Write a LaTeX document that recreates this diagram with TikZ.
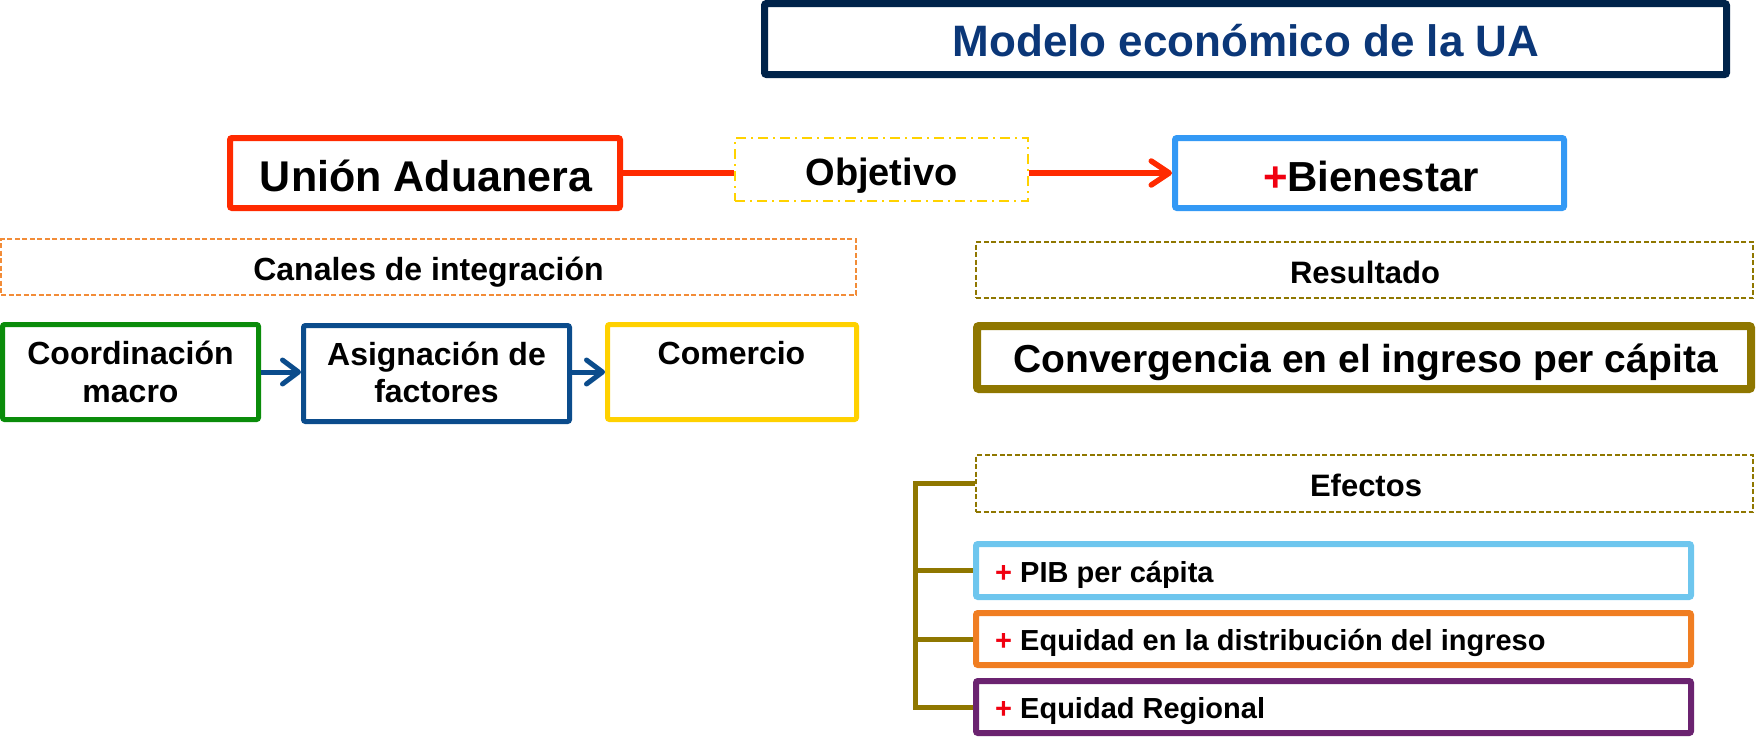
\documentclass[tikz,border=0pt]{standalone}
\usepackage{fontspec}
\setmainfont{Liberation Sans}
\usetikzlibrary{arrows.meta}
\definecolor{navy}{HTML}{00234A}
\definecolor{titleblue}{HTML}{0B3778}
\definecolor{uared}{HTML}{FF2A00}
\definecolor{objyellow}{HTML}{FFD200}
\definecolor{bienblue}{HTML}{3399F5}
\definecolor{canorange}{HTML}{F28C38}
\definecolor{cgreen}{HTML}{0A8C0A}
\definecolor{cblue}{HTML}{0B4C8C}
\definecolor{cgold}{HTML}{FFD100}
\definecolor{olive}{HTML}{8F7700}
\definecolor{lblue}{HTML}{6EC6EE}
\definecolor{eorange}{HTML}{F07E22}
\definecolor{epurple}{HTML}{6B2370}
\definecolor{plusred}{HTML}{F00010}
\begin{document}
\begin{tikzpicture}[x=1pt,y=-1pt,
  box/.style={draw, rounded corners=2pt, inner sep=0pt},
  txt/.style={anchor=base, inner sep=0pt, font=\bfseries\fontsize{#1}{#1}\selectfont},
  txtw/.style={anchor=base west, inner sep=0pt, font=\bfseries\fontsize{#1}{#1}\selectfont},
  dashbox/.style={draw, inner sep=0pt, line width=2pt, dash pattern=on 5pt off 2.5pt},
  redline/.style={draw=uared, line width=5.5pt},
  bluearrow/.style={draw=cblue, line width=5pt, -{Straight Barb[length=16pt, width=24pt, line width=5pt, round]}},
  bracket/.style={draw=olive, line width=5pt}
]
\useasboundingbox (0,0) rectangle (1756,737);

% Title
\node[box, line width=7pt, draw=navy, minimum width=962pt, minimum height=71pt] (title) at (1245.5,39) {};
\node[txt=44, text=titleblue] (t-title) at (1246,56) {Modelo económico de la UA};

% Top row
\node[box, line width=6pt, draw=uared, minimum width=390pt, minimum height=70pt] (ua) at (425,173) {};
\node[txt=43] (t-ua) at (426,191) {Unión Aduanera};

\node[draw=objyellow, line width=2pt, dash pattern=on 10pt off 5pt on 2pt off 5pt, inner sep=0pt, minimum width=293pt, minimum height=63pt] (obj) at (881.5,169.5) {};
\node[txt=38] (t-obj) at (881.5,185) {Objetivo};

\node[box, line width=6pt, draw=bienblue, minimum width=389pt, minimum height=70pt] (bien) at (1369.5,173) {};
\node[txt=42] (t-bien) at (1371,191) {\textcolor{plusred}{+}Bienestar};

\draw[redline] (ua.east) -- (obj.west |- ua.east);
\draw[redline, -{Straight Barb[length=18pt, width=24pt, line width=5.5pt, round]}] (obj.east |- bien.west) -- (bien.west);

% Left: canales
\node[dashbox, draw=canorange, minimum width=855pt, minimum height=56pt] (canales) at (428.5,267) {};
\node[txt=32] (t-canales) at (428.5,280) {Canales de integración};

\node[box, line width=5pt, draw=cgreen, minimum width=256pt, minimum height=95pt] (coord) at (130.5,372) {};
\node[txt=32] (t-coord1) at (130.5,364) {Coordinación};
\node[txt=32] (t-coord2) at (130.5,402) {macro};

\node[box, line width=5pt, draw=cblue, minimum width=266pt, minimum height=96pt] (asig) at (436.5,373.5) {};
\node[txt=32] (t-asig1) at (436.5,365) {Asignación de};
\node[txt=32] (t-asig2) at (436.5,402) {factores};

\node[box, line width=5pt, draw=cgold, minimum width=249pt, minimum height=95pt] (com) at (732,372) {};
\node[txt=32] (t-com) at (731.5,364) {Comercio};

\draw[bluearrow] (coord.east) -- (asig.west |- coord.east);
\draw[bluearrow] (asig.east |- coord.east) -- (com.west);

% Right: resultado
\node[dashbox, draw=olive, minimum width=777pt, minimum height=56pt] (res) at (1364.5,270) {};
\node[txt=31] (t-res) at (1365,283) {Resultado};

\node[box, line width=8pt, draw=olive, minimum width=774pt, minimum height=63pt] (conv) at (1364,357.5) {};
\node[txt=39] (t-conv) at (1365.5,372) {Convergencia en el ingreso per cápita};

\node[dashbox, draw=olive, minimum width=777pt, minimum height=57pt] (efe) at (1364.5,483.5) {};
\node[txt=31] (t-efe) at (1366,496) {Efectos};

\node[box, line width=6pt, draw=lblue, minimum width=715pt, minimum height=53pt] (pib) at (1333.5,570.5) {};
\node[txtw=29] (t-pib) at (995,582) {\textcolor{plusred}{+} PIB per cápita};

\node[box, line width=6pt, draw=eorange, minimum width=715pt, minimum height=52pt] (eqd) at (1333.5,639) {};
\node[txtw=29] (t-eqd) at (995,650) {\textcolor{plusred}{+} Equidad en la distribución del ingreso};

\node[box, line width=6pt, draw=epurple, minimum width=715pt, minimum height=52pt] (eqr) at (1333.5,707) {};
\node[txtw=29] (t-eqr) at (995,718) {\textcolor{plusred}{+} Equidad Regional};

% Bracket
\coordinate (bk) at (915,0);
\draw[bracket] (efe.west) -| (bk |- eqr.west) -- (eqr.west);
\draw[bracket] (pib.west -| bk) -- (pib.west);
\draw[bracket] (eqd.west -| bk) -- (eqd.west);
\end{tikzpicture}
\end{document}
